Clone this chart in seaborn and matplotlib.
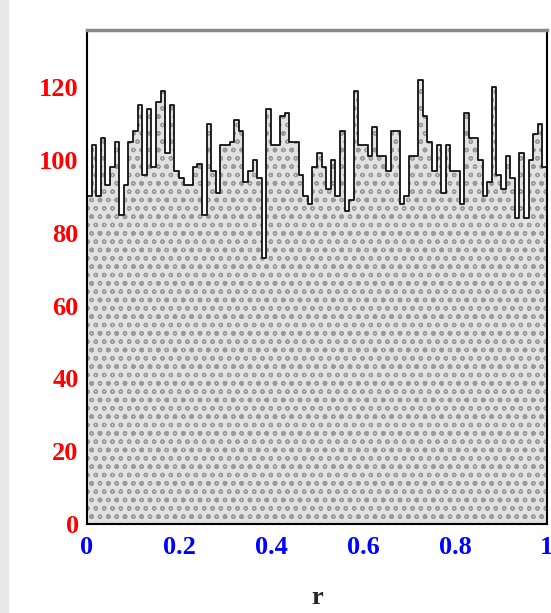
import matplotlib
matplotlib.use("Agg")
import matplotlib.pyplot as plt
import numpy as np
import seaborn as sns
from matplotlib.patches import Rectangle
from matplotlib.ticker import MultipleLocator

# bin contents (100 bins from 0 to 1)
counts = [90, 104, 90, 106, 93, 98, 105, 85, 93, 105,
          108, 115, 96, 114, 98, 116, 119, 102, 115, 97,
          95, 93, 93, 98, 99, 85, 110, 97, 91, 104,
          104, 105, 111, 108, 94, 97, 100, 95, 73, 114,
          104, 104, 112, 113, 105, 105, 96, 90, 88, 98,
          102, 98, 92, 100, 90, 108, 86, 89, 119, 104,
          104, 101, 109, 101, 101, 97, 108, 108, 88, 90,
          101, 101, 122, 112, 105, 97, 104, 91, 104, 97,
          97, 88, 113, 106, 106, 100, 90, 94, 120, 96,
          92, 101, 95, 84, 102, 84, 100, 107, 110, 98]
n_bins = 100
x_ticks = [0, 0.2, 0.4, 0.6, 0.8, 1.0]
x_labels = ["0", "0.2", "0.4", "0.6", "0.8", "1"]
y_ticks = [0, 20, 40, 60, 80, 100, 120]

centers = (np.arange(n_bins) + 0.5) / n_bins

sns.set_theme(style="white")
plt.rcParams["font.family"] = ["Liberation Serif", "DejaVu Serif"]
plt.rcParams["font.weight"] = "bold"
plt.rcParams["hatch.linewidth"] = 0.9

fig = plt.figure(figsize=(5.51, 6.13), dpi=100)
fig.patches.append(Rectangle((0, 0), 8 / 551, 1, transform=fig.transFigure,
                             color="#e8e8e8", zorder=-1))
ax = fig.add_axes([87 / 551, 89 / 613, 460 / 551, 494 / 613])

# dotted fill
sns.histplot(x=centers, weights=counts, bins=n_bins, binrange=(0, 1),
             element="step", fill=True, color="#e6e6e6", alpha=1,
             linewidth=0, ax=ax)
poly = ax.collections[0]
poly.set_facecolor("#e2e2e2")
poly.set_edgecolor("#9a9a9a")
poly.set_linewidth(0)
poly.set_hatch("oo.")

# outline
sns.histplot(x=centers, weights=counts, bins=n_bins, binrange=(0, 1),
             element="step", fill=False, color="#111111", linewidth=1.3,
             ax=ax)

ax.set_xlim(0, 1)
ax.set_ylim(0, 135.7)

ax.set_xticks(x_ticks)
ax.set_xticklabels(x_labels)
ax.set_yticks(y_ticks)
ax.xaxis.set_minor_locator(MultipleLocator(0.05))
ax.yaxis.set_minor_locator(MultipleLocator(5))

ax.tick_params(axis="x", which="major", direction="in", length=15, width=1.2,
               color="blue", labelcolor="blue", labelsize=19, pad=9)
ax.tick_params(axis="x", which="minor", direction="in", length=9, width=1.2,
               color="blue")
ax.tick_params(axis="y", which="major", direction="in", length=15, width=1.2,
               color="red", labelcolor="red", labelsize=19, pad=6)
ax.tick_params(axis="y", which="minor", direction="in", length=8, width=1.2,
               color="red")

for side in ["left", "bottom", "right"]:
    ax.spines[side].set_color("black")
    ax.spines[side].set_linewidth(1.5)
ax.spines["top"].set_color("#8a8a8a")
ax.spines["top"].set_linewidth(2.5)

ax.set_ylabel("")
ax.set_xlabel("r", fontsize=19, fontweight="bold")
ax.xaxis.set_label_coords(0.5, -0.125)

fig.savefig("out.png", dpi=100)
